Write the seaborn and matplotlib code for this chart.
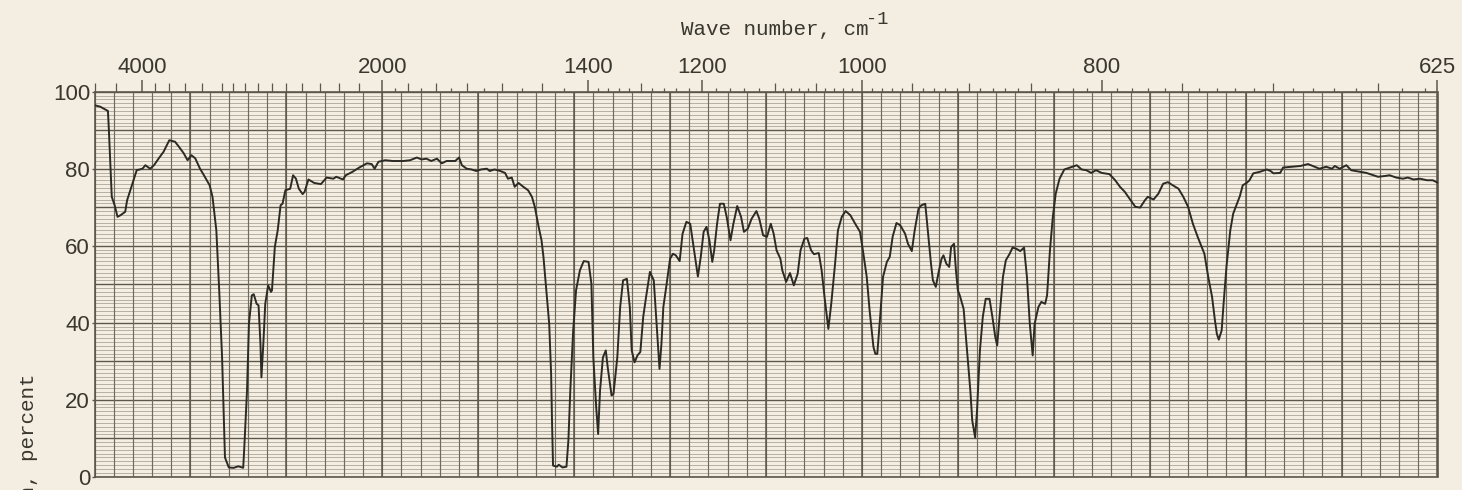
import numpy as np
import pandas as pd
import matplotlib
matplotlib.use("Agg")
import matplotlib.pyplot as plt
import seaborn as sns

# ---------------- data ----------------
# abscissa is linear in wavelength (micrometres); top scale shows wave number
wavelength_um = [
    2.00, 2.06, 2.11, 2.14, 2.15, 2.17, 2.18, 2.21, 2.24, 2.27, 2.32, 2.34, 2.39, 2.44, 2.50,
    2.53, 2.58, 2.62, 2.67, 2.72, 2.78, 2.84, 2.88, 2.93, 2.97, 3.01, 3.05, 3.10, 3.15, 3.20,
    3.23, 3.27, 3.30, 3.33, 3.35, 3.36, 3.40, 3.45, 3.50, 3.55, 3.56, 3.59, 3.61, 3.64, 3.66,
    3.69, 3.71, 3.73, 3.74, 3.76, 3.78, 3.81, 3.84, 3.85, 3.88, 3.91, 3.94, 3.96, 3.99, 4.04,
    4.07, 4.10, 4.13, 4.17, 4.19, 4.23, 4.29, 4.36, 4.42, 4.49, 4.52, 4.59, 4.62, 4.69, 4.76,
    4.84, 4.89, 4.92, 4.96,
    5.03, 5.11, 5.22, 5.29, 5.36, 5.41, 5.46, 5.51, 5.57, 5.62, 5.67, 5.76, 5.80, 5.83, 5.88,
    5.93, 5.98, 6.03, 6.09, 6.12, 6.17, 6.23, 6.28, 6.31, 6.35, 6.38, 6.42, 6.47, 6.52, 6.56,
    6.59, 6.63, 6.66, 6.68, 6.71, 6.74, 6.76, 6.77, 6.78, 6.82, 6.84, 6.88, 6.92, 6.94, 6.96,
    6.99, 7.02, 7.06, 7.10, 7.15, 7.18, 7.20, 7.23, 7.25, 7.27, 7.30, 7.33, 7.35, 7.39, 7.41,
    7.45, 7.48, 7.51, 7.55, 7.58, 7.60, 7.63, 7.66, 7.69, 7.72, 7.75, 7.79, 7.83, 7.86, 7.89,
    7.91, 7.93, 7.96,
    8.00, 8.03, 8.06, 8.10, 8.13, 8.17, 8.21, 8.24, 8.27, 8.29, 8.32, 8.35, 8.38, 8.41, 8.44,
    8.46, 8.49, 8.52, 8.56, 8.59, 8.63, 8.66, 8.70, 8.74, 8.77, 8.81, 8.85, 8.90, 8.93, 8.97,
    9.01, 9.05, 9.08, 9.11, 9.15, 9.17, 9.21, 9.25, 9.29, 9.33, 9.36, 9.40, 9.43, 9.47, 9.50,
    9.55, 9.58, 9.61, 9.65, 9.68, 9.72, 9.75, 9.79, 9.83, 9.88, 9.93, 9.98, 10.01, 10.05, 10.08,
    10.12, 10.14, 10.16, 10.19, 10.22, 10.26, 10.29, 10.32, 10.36, 10.40, 10.45, 10.48, 10.52,
    10.55, 10.59, 10.62, 10.66, 10.68, 10.72, 10.74, 10.77, 10.80, 10.83, 10.85, 10.88, 10.91,
    10.93, 10.96, 10.98, 11.00,
    11.02, 11.06, 11.09, 11.13, 11.15, 11.18, 11.20, 11.23, 11.26, 11.29, 11.33, 11.36, 11.39,
    11.41, 11.44, 11.47, 11.50, 11.54, 11.57, 11.61, 11.65, 11.69, 11.72, 11.75, 11.78, 11.80,
    11.84, 11.87, 11.91, 11.93, 11.96, 11.99, 12.02, 12.06, 12.11, 12.17, 12.24, 12.29, 12.34,
    12.39, 12.44, 12.50, 12.58, 12.64, 12.69, 12.74, 12.79, 12.85, 12.90, 12.95, 12.98, 13.04,
    13.09, 13.14, 13.19, 13.24, 13.30, 13.35, 13.40, 13.45, 13.50,
    13.57, 13.61, 13.65, 13.68, 13.70, 13.72, 13.75, 13.77, 13.80, 13.84, 13.87, 13.91, 13.94,
    13.97, 14.01, 14.04, 14.08, 14.15, 14.22, 14.26, 14.29, 14.36, 14.39, 14.48, 14.57, 14.65,
    14.72, 14.77, 14.84, 14.90, 14.93, 14.98, 15.05, 15.10, 15.19, 15.26, 15.33, 15.38, 15.45,
    15.50, 15.57, 15.64, 15.69, 15.75, 15.82, 15.89, 15.95, 16.00,
]
transmission_pct = [
    96.5, 96.1, 95.4, 95.0, 90.0, 78.7, 72.7, 70.5, 67.5, 67.9, 68.8, 71.8, 75.7, 79.6, 80.0,
    80.9, 80.0, 80.9, 82.7, 84.4, 87.4, 87.0, 85.7, 84.0, 82.2, 83.5, 82.7, 80.0, 77.9, 75.7,
    72.7, 64.0, 48.4, 31.0, 13.7, 5.0, 2.4, 2.3, 2.7, 2.3, 6.8, 22.4, 39.7, 47.1, 47.4,
    44.9, 44.5, 34.5, 25.8, 34.5, 44.9, 49.7, 48.0, 48.4, 59.7, 64.0, 70.5, 70.9, 74.4, 74.8,
    78.3, 77.4, 74.8, 73.4, 74.0, 77.2, 76.3, 76.0, 77.7, 77.4, 77.9, 77.2, 78.3, 79.2, 80.3,
    81.4, 81.2, 80.0, 81.8,
    82.2, 82.0, 82.0, 82.2, 82.9, 82.4, 82.6, 82.0, 82.6, 81.4, 82.0, 82.0, 82.9, 80.9, 80.0,
    79.8, 79.4, 79.8, 80.0, 79.4, 79.8, 79.4, 78.9, 77.4, 77.7, 75.3, 76.3, 75.3, 74.4, 72.7,
    70.1, 64.9, 61.4, 57.1, 48.4, 39.7, 26.7, 13.7, 2.9, 2.6, 3.1, 2.4, 2.6, 9.4, 22.4,
    38.0, 48.4, 53.6, 56.0, 55.8, 50.1, 31.0, 18.0, 11.1, 22.4, 31.0, 32.8, 28.4, 21.1, 21.5,
    31.0, 44.1, 51.0, 51.4, 44.1, 32.8, 29.7, 31.5, 32.4, 41.5, 46.7, 53.2, 51.0, 39.7, 28.0,
    34.5, 44.1, 49.3,
    56.6, 57.9, 57.5, 56.0, 63.1, 66.2, 65.7, 60.5, 55.3, 52.0, 57.1, 63.6, 64.9, 61.4, 55.8,
    58.8, 65.7, 70.9, 70.9, 67.5, 61.4, 65.7, 70.3, 67.5, 63.6, 64.4, 67.0, 69.0, 67.0, 62.7,
    62.3, 65.7, 63.1, 58.8, 56.6, 53.6, 50.6, 52.9, 49.7, 52.7, 58.8, 61.8, 62.0, 58.8, 57.8,
    58.1, 53.6, 46.7, 38.4, 44.9, 55.3, 64.0, 67.5, 69.0, 67.9, 65.7, 63.6, 58.8, 51.9, 43.2,
    33.7, 31.9, 31.9, 41.5, 51.9, 55.8, 57.1, 62.3, 65.9, 65.3, 63.1, 60.5, 58.6,
    64.0, 69.6, 70.5, 70.9, 65.7, 55.3, 51.0, 49.3, 53.2, 56.6, 57.5, 55.3, 54.5,
    59.7, 60.5, 53.6, 48.4,
    47.1, 43.6, 34.5, 22.4, 14.6, 10.2, 17.2, 32.8, 41.5, 46.2, 46.2, 41.5, 36.3,
    34.1, 43.2, 51.9, 56.2, 57.9, 59.5, 59.2, 58.6, 59.5, 51.9, 39.7, 31.5, 39.7,
    44.1, 45.4, 44.9, 47.1, 58.8, 67.5, 73.5, 77.4, 79.8, 80.3, 80.9, 79.8, 79.6,
    78.9, 79.6, 78.9, 78.6, 77.0, 75.3, 74.0, 72.2, 70.1, 69.9, 71.8, 72.7, 72.0,
    73.5, 76.1, 76.5, 75.7, 74.8, 72.7, 70.1, 65.7, 62.3,
    57.9, 51.9, 46.7, 40.6, 37.1, 35.6, 38.0, 44.9, 54.5, 64.0, 68.3, 70.9, 72.9,
    75.7, 76.3, 77.0, 78.8, 79.2, 79.8, 79.4, 78.8, 78.9, 80.3, 80.5, 80.7, 81.2,
    80.5, 80.0, 80.5, 80.0, 80.7, 80.0, 80.9, 79.6, 79.2, 78.9, 78.3, 77.9, 78.1,
    78.3, 77.7, 77.4, 77.7, 77.2, 77.4, 77.0, 77.0, 76.4,
]
wavenumber_labels = [4000, 2000, 1400, 1200, 1000, 800, 625]
wavenumber_mid = [5000, 4500, 3800, 3600, 3400, 3200, 3000, 2900, 2800, 2700, 2600, 2500,
                  2400, 2300, 2200, 2100, 1900, 1800, 1700, 1600, 1500, 1300, 1100,
                  1050, 950, 900, 850, 750, 700, 650]
transmission_ticks = [0, 20, 40, 60, 80, 100]
xlabel_text = "Wave number, cm"
xlabel_sup = "-1"
ylabel_text = "Transmission, percent"

# short minor ticks on the wave-number scale
wavenumber_minor = ([2900, 2700] + list(range(1950, 1399, -50)) + list(range(1380, 1099, -20))
                    + list(range(1090, 629, -10)))
wavenumber_minor = [w for w in wavenumber_minor if w not in wavenumber_labels and w not in wavenumber_mid]

# ---------------- style ----------------
sns.set_theme(style="white")
plt.rcParams['font.family'] = ['Liberation Sans', 'DejaVu Sans']

PAPER = '#f4eee2'
INK = '#2c2a24'
TEXT = '#3a372f'
GRID_DARK = '#5d574b'
GRID_MID = '#6f695c'
GRID_LIGHT = '#a69e8f'

W, H = 1462, 490
fig = plt.figure(figsize=(W / 100, H / 100), dpi=100, facecolor=PAPER)
left, right, top, bottom = 94.5, 1437.5, 91.7, 476.7
ax = fig.add_axes([left / W, 1 - bottom / H, (right - left) / W, (bottom - top) / H])
ax.set_facecolor(PAPER)

# chart paper grid
pct = np.arange(0, 101, 1)
ax.hlines(pct[pct % 10 != 0], 2, 16, colors=GRID_LIGHT, lw=0.55, zorder=1)
ax.hlines(pct[pct % 10 == 0], 2, 16, colors=GRID_DARK, lw=1.0, zorder=1)
lam = np.round(np.arange(2.0, 16.001, 0.2), 2)
ax.vlines(lam, 0, 100, colors=GRID_MID, lw=0.85, zorder=1)
ax.vlines(lam[np.isclose(lam % 1, 0) | np.isclose(lam % 1, 1)], 0, 100, colors=GRID_DARK, lw=1.1, zorder=1)

df = pd.DataFrame({"wavelength_um": wavelength_um, "transmission_pct": transmission_pct})
sns.lineplot(data=df, x="wavelength_um", y="transmission_pct", ax=ax, color=INK,
             lw=1.4, estimator=None, sort=False, zorder=3)

ax.set_xlim(2, 16)
ax.set_ylim(0, 100)
ax.set_xlabel("")
ax.set_ylabel("")

for s in ax.spines.values():
    s.set_color(GRID_DARK)
    s.set_linewidth(1.2)

# top wave-number scale
ax.xaxis.tick_top()
ax.set_xticks([1e4 / w for w in wavenumber_labels])
ax.set_xticklabels([str(w) for w in wavenumber_labels])
ax.set_xticks([1e4 / w for w in wavenumber_minor], minor=True)
ax.tick_params(axis='x', which='major', top=True, bottom=False, length=8.6, width=1.1,
               color=GRID_DARK, pad=1, labelsize=16, labelcolor=TEXT)
ax.tick_params(axis='x', which='minor', top=True, bottom=False, length=3.2, width=0.9,
               color=GRID_DARK)

sec = ax.secondary_xaxis('top')
sec.set_xticks([1e4 / w for w in wavenumber_mid])
sec.tick_params(axis='x', which='major', length=6.2, width=0.9, color=GRID_DARK,
                labeltop=False, labelbottom=False)
sec.xaxis.set_minor_locator(matplotlib.ticker.NullLocator())
sec.spines['top'].set_visible(False)

ax.set_yticks(transmission_ticks)
ax.set_yticklabels([str(t) for t in transmission_ticks])
ax.tick_params(axis='y', which='major', left=True, length=2, width=1.0, color=GRID_DARK,
               pad=1.2, labelsize=16, labelcolor=TEXT)

# axis titles (typewriter style)
mono = ['Liberation Mono', 'DejaVu Sans Mono']
fig.text(681 / W, 1 - 35 / H, xlabel_text, family=mono, fontsize=15, color=TEXT,
         ha='left', va='baseline')
fig.text(866 / W, 1 - 24 / H, xlabel_sup, family=mono, fontsize=13.5, color=TEXT,
         ha='left', va='baseline')
fig.text(29 / W, 1 - 373 / H, ylabel_text, family=mono, fontsize=15, color=TEXT,
         rotation=90, ha='center', va='top')

fig.savefig("out.png", dpi=100, facecolor=PAPER)
